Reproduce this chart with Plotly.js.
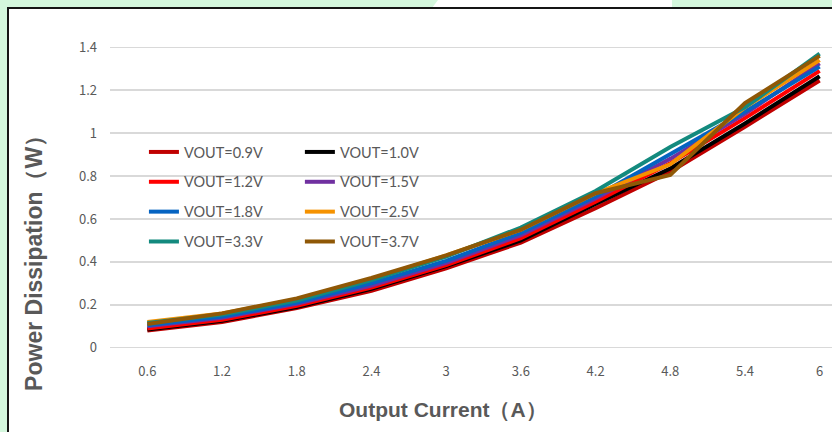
<!DOCTYPE html>
<html>
<head>
<meta charset="utf-8">
<script src="https://cdn.plot.ly/plotly-3.0.1.min.js"></script>
<style>
  html, body { margin: 0; padding: 0; width: 832px; height: 432px; overflow: hidden; background: #d4f7dd; }
  #gap { position: absolute; left: 432px; top: 0; width: 240px; height: 8px; background: #ffffff;
         clip-path: polygon(6px 0, 100% 0, 100% 100%, 0 100%); }
  #frame { position: absolute; left: 7px; top: 7px; width: 900px; height: 500px; background: #ffffff;
           border: 2px solid #151515; box-sizing: border-box; }
  #chart { position: absolute; left: 0; top: 0; width: 832px; height: 432px; }
</style>
</head>
<body>
<div id="gap"></div>
<div id="frame"></div>
<div id="chart"></div>
<script>
// Output current categories (A)
const currents = ["0.6", "1.2", "1.8", "2.4", "3", "3.6", "4.2", "4.8", "5.4", "6"];

// Power dissipation (W) per output voltage
const vout09 = [0.08, 0.12, 0.185, 0.265, 0.37, 0.49, 0.65, 0.82, 1.03, 1.245];
const vout10 = [0.085, 0.125, 0.19, 0.275, 0.38, 0.50, 0.67, 0.835, 1.045, 1.265];
const vout12 = [0.09, 0.13, 0.195, 0.28, 0.385, 0.51, 0.68, 0.86, 1.07, 1.29];
const vout15 = [0.10, 0.14, 0.205, 0.29, 0.395, 0.525, 0.695, 0.88, 1.09, 1.325];
const vout18 = [0.105, 0.145, 0.21, 0.30, 0.405, 0.535, 0.705, 0.90, 1.10, 1.31];
const vout25 = [0.12, 0.16, 0.225, 0.32, 0.43, 0.55, 0.72, 0.855, 1.12, 1.34];
const vout33 = [0.115, 0.155, 0.22, 0.315, 0.425, 0.56, 0.73, 0.935, 1.12, 1.37];
const vout37 = [0.11, 0.16, 0.23, 0.325, 0.43, 0.55, 0.72, 0.805, 1.14, 1.36];

const seriesNames = ["VOUT=0.9V", "VOUT=1.0V", "VOUT=1.2V", "VOUT=1.5V", "VOUT=1.8V", "VOUT=2.5V", "VOUT=3.3V", "VOUT=3.7V"];
const seriesData = [vout09, vout10, vout12, vout15, vout18, vout25, vout33, vout37];
const seriesColors = ["#c00000", "#000000", "#ff0000", "#7030a0", "#0563c1", "#f59200", "#138a7e", "#8f5806"];
const seriesLegend = ["legend", "legend2", "legend", "legend2", "legend", "legend2", "legend", "legend2"];

const traces = seriesNames.map((name, i) => ({
  type: "scatter",
  mode: "lines",
  x: currents,
  y: seriesData[i],
  name: name,
  legend: seriesLegend[i],
  legendgroup: "g" + i,
  line: { color: seriesColors[i], width: 4 },
  hoverinfo: "skip"
}));

const legendBase = {
  orientation: "v",
  bgcolor: "rgba(0,0,0,0)",
  borderwidth: 0,
  font: { family: "Lato, 'Noto Sans', sans-serif", size: 14.5, color: "#595959" },
  traceorder: "grouped",
  tracegroupgap: 8,
  itemwidth: 30,
  xanchor: "left",
  yanchor: "top",
  yref: "paper",
  xref: "paper"
};

const layout = {
  width: 832,
  height: 432,
  paper_bgcolor: "rgba(0,0,0,0)",
  plot_bgcolor: "rgba(0,0,0,0)",
  margin: { l: 110, r: 0, t: 42.7, b: 79.7 },
  showlegend: true,
  legend: Object.assign({}, legendBase, { x: 0.047, y: 0.699 }),
  legend2: Object.assign({}, legendBase, { x: 0.263, y: 0.699 }),
  xaxis: {
    type: "category",
    range: [-0.5, 9.165],
    showgrid: false,
    zeroline: false,
    showline: false,
    ticks: "",
    tickfont: { family: "'Noto Sans CJK SC', 'Noto Sans', sans-serif", size: 13, color: "#595959" },
    ticklabelstandoff: 10,
    fixedrange: true
  },
  yaxis: {
    range: [-0.02, 1.42],
    tickvals: [0, 0.2, 0.4, 0.6, 0.8, 1, 1.2, 1.4],
    ticktext: ["0", "0.2", "0.4", "0.6", "0.8", "1", "1.2", "1.4"],
    showgrid: true,
    gridcolor: "#d9d9d9",
    gridwidth: 1.5,
    zeroline: false,
    showline: false,
    ticks: "",
    tickfont: { family: "'Noto Sans CJK SC', 'Noto Sans', sans-serif", size: 13, color: "#595959" },
    ticklabelstandoff: 12,
    fixedrange: true
  },
  annotations: [
    {
      text: "<b>Output Current（A）</b>",
      xref: "paper", yref: "paper",
      x: (443 - 110) / 722, y: (352.3 - 410) / 309.6,
      xanchor: "center", yanchor: "middle",
      showarrow: false,
      font: { family: "'Liberation Sans', Arial, sans-serif", size: 21, color: "#595959" }
    },
    {
      text: "<b>Power Dissipation（W）</b>",
      xref: "paper", yref: "paper",
      x: (34 - 110) / 722, y: (352.3 - 258) / 309.6,
      xanchor: "center", yanchor: "middle",
      textangle: -90,
      showarrow: false,
      font: { family: "'Liberation Sans', Arial, sans-serif", size: 23, color: "#595959" }
    }
  ]
};

Plotly.newPlot("chart", traces, layout, { staticPlot: true, displayModeBar: false });
</script>
</body>
</html>
